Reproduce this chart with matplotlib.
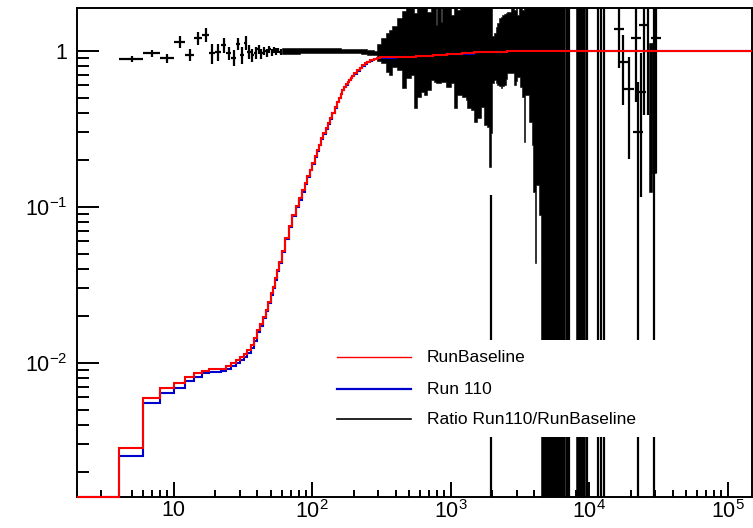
import numpy as np
import matplotlib
matplotlib.use('Agg')
import matplotlib.pyplot as plt
from matplotlib.patches import Rectangle
from matplotlib.lines import Line2D
from matplotlib.ticker import NullFormatter

plt.rcParams['font.family'] = ['Liberation Sans', 'DejaVu Sans']
plt.rcParams['mathtext.fontset'] = 'custom'
plt.rcParams['mathtext.rm'] = 'Liberation Sans'
plt.rcParams['mathtext.it'] = 'Liberation Sans:italic'
plt.rcParams['mathtext.bf'] = 'Liberation Sans:bold'

X_MIN, X_MAX = 2, 150000
Y_MIN, Y_MAX = 1.377e-3, 1.878
TOP = 2.5       # above the frame, clipped
BOTTOM = 1e-4   # below the frame, clipped

# cumulative histograms: bin edges and contents
hist_edges = [2, 4, 6, 8, 10, 12, 14, 16, 18, 20, 22, 24, 26, 28, 30, 32, 34, 36, 38, 40,
              42, 44, 46, 48, 50, 52, 54, 56, 58, 60,
              64, 68, 72, 76, 80, 84, 88, 92, 96, 100, 104, 108, 112, 116, 120,
              125, 130, 135, 140, 145, 150, 155, 160, 165, 170, 175, 180, 185, 190, 195, 200,
              210, 220, 230, 240, 250, 260, 270, 280, 295, 310,
              400, 560, 750, 946, 1200, 1474, 2000, 2570, 150000]
baseline_vals = [Y_MIN, 2.83e-3, 5.97e-3, 6.91e-3, 7.44e-3, 8.05e-3, 8.55e-3, 8.85e-3, 9.08e-3,
                 9.10e-3, 9.15e-3, 9.53e-3, 1.00e-2, 1.04e-2, 1.08e-2, 1.13e-2, 1.20e-2,
                 1.29e-2, 1.43e-2, 1.62e-2, 1.77e-2, 1.97e-2, 2.18e-2, 2.46e-2, 2.79e-2,
                 3.07e-2, 3.48e-2, 3.93e-2, 4.44e-2,
                 0.052, 0.063, 0.075, 0.088, 0.101, 0.113, 0.127, 0.142, 0.157, 0.173,
                 0.19, 0.21, 0.23, 0.25, 0.275,
                 0.297, 0.32, 0.343, 0.37, 0.40, 0.435, 0.47, 0.50, 0.53, 0.56, 0.585, 0.61,
                 0.632, 0.653, 0.673, 0.692,
                 0.715, 0.75, 0.78, 0.805, 0.828, 0.848, 0.866, 0.878, 0.89, 0.90,
                 0.907, 0.917, 0.927, 0.936, 0.953, 0.961, 0.977, 0.985, 0.998]
run110_vals = [Y_MIN, 2.52e-3, 5.50e-3, 6.42e-3, 6.91e-3, 7.67e-3, 8.13e-3, 8.55e-3, 8.70e-3,
               8.70e-3, 8.80e-3, 9.10e-3, 9.53e-3, 1.00e-2, 1.04e-2, 1.09e-2, 1.16e-2,
               1.25e-2, 1.37e-2, 1.58e-2, 1.72e-2, 1.92e-2, 2.13e-2, 2.41e-2, 2.73e-2,
               3.01e-2, 3.41e-2, 3.86e-2, 4.36e-2,
               0.051, 0.062, 0.074, 0.087, 0.099, 0.111, 0.125, 0.140, 0.155, 0.171,
               0.187, 0.207, 0.227, 0.247, 0.271,
               0.293, 0.316, 0.339, 0.366, 0.396, 0.431, 0.466, 0.496, 0.526, 0.556, 0.581,
               0.606, 0.628, 0.649, 0.669, 0.688,
               0.711, 0.746, 0.776, 0.801, 0.824, 0.844, 0.862, 0.874, 0.886, 0.896,
               0.904, 0.914, 0.925, 0.934, 0.951, 0.959, 0.976, 0.984, 0.997]

# ratio, low x bins (width 2)
ratio_x = [5, 7, 9, 11, 13, 15, 17, 19, 21, 23, 25, 27, 29, 31, 33, 35, 37, 39, 41, 43,
           45, 47, 49, 51, 53, 55, 57, 59]
ratio_y = [0.885, 0.962, 0.894, 1.142, 0.938, 1.20, 1.26, 0.962, 0.985, 1.087, 0.962, 0.902,
           1.104, 0.938, 1.125, 0.985, 0.938, 0.97, 1.02, 0.96, 1.0, 0.97, 1.02, 0.98,
           1.01, 0.99, 1.0, 0.98]
ratio_err = [0.04, 0.045, 0.06, 0.095, 0.08, 0.11, 0.13, 0.14, 0.12, 0.12, 0.09, 0.11,
             0.10, 0.12, 0.11, 0.10, 0.09, 0.08, 0.07, 0.07, 0.06, 0.06, 0.05, 0.05,
             0.05, 0.045, 0.04, 0.04]

# dense part of the ratio: outline of the overlapping error bars
band_edges = [60, 82, 115, 160, 224, 250, 279, 295, 312, 339, 358, 379, 412, 448, 473, 514,
              543, 574, 607, 641, 679, 717, 757, 779, 801, 850, 871, 920, 1000, 1056, 1118,
              1160, 1215, 1283, 1320, 1395, 1474, 1560, 1648, 1741, 1842, 1892, 1946, 2000,
              2056, 2115, 2176, 2240, 2298, 2362, 2428, 2500, 2570, 2640, 2715, 2868, 2950,
              3035, 3100, 3170, 3299, 3387, 3440, 3681, 3896, 3961, 4048, 4140, 4348, 4473,
              6668]
band_lo = [0.955, 0.96, 0.965, 0.965, 0.95, 0.935, 0.938, 0.86, 0.83, 0.734, 0.699, 0.79,
           0.752, 0.574, 0.665, 0.699, 0.427, 0.507, 0.546, 0.52, 0.56, 0.649, 0.633, 0.618,
           0.618, 0.633, 0.633, 0.588, 0.618, 0.427, 0.52, 0.52, 0.507, 0.483, 0.427, 0.417,
           0.351, 0.369, 0.438, 0.334, 0.326, 0.18, 0.295, 0.62, 0.649, 0.62, 0.603, 0.59,
           0.574, 0.59, 0.603, 0.66, 0.716, 0.716, 0.716, 0.603, 0.64, 0.681, 0.681, 0.588,
           0.507, 0.261, 0.52, 0.351, 0.249, 0.125, 0.0436, 0.138, 0.0885, BOTTOM]
band_hi = [1.045, 1.04, 1.035, 1.03, 1.025, 1.01, 0.99, 1.10, 1.20, 1.30, 1.36, 1.45, 1.61,
           1.80, TOP, TOP, 1.737, TOP, TOP, TOP, 1.778, TOP, TOP, 1.461, TOP, 1.534, TOP,
           TOP, 1.694, TOP, 1.823, TOP, TOP, TOP, TOP, TOP, TOP, TOP, TOP, TOP, TOP, TOP,
           TOP, 1.25, 1.293, 1.425, 1.5, 1.613, 1.65, 1.694, 1.72, 1.737, 1.76, 1.778, TOP,
           1.823, TOP, 1.694, TOP, TOP, 1.823, TOP, TOP, TOP, TOP, TOP, TOP, TOP, TOP, TOP]

# solid blocks at high x
block_x0 = [8008, 27130, 28500]
block_x1 = [9302, 28500, 30330]
block_lo = [BOTTOM, 0.125, 0.164]
block_hi = [TOP, 1.121, 1.121]

# single long error bars at high x
spike_x = [1946, 6950, 7163, 9570, 11490, 12140, 12830, 16460, 17420, 19450, 21750, 22370,
           23630, 24720, 26800, 29200, 30330]
spike_lo = [BOTTOM, BOTTOM, BOTTOM, BOTTOM, BOTTOM, BOTTOM, BOTTOM, 0.775, 0.449, 0.202,
            0.471, BOTTOM, 0.116, 0.387, 0.387, BOTTOM, 0.164]
spike_hi = [0.119, TOP, TOP, TOP, TOP, TOP, TOP, TOP, 1.261, 0.915, TOP, 0.633, 0.967, TOP,
            TOP, TOP, TOP]
mark_x = [16460, 17420, 19450, 21750, 22370, 23630, 24720, 30330]
mark_y = [1.377, 0.85, 0.566, 1.201, 0.303, 0.544, 1.461, 1.211]

legend_labels = ['RunBaseline', 'Run 110', 'Ratio Run110/RunBaseline']
legend_colors = ['#ff0000', '#0000cc', 'black']

W, H = 753, 528
fig = plt.figure(figsize=(W / 100, H / 100), dpi=100)
ax = fig.add_axes([77 / W, 1 - 497 / H, 675 / W, 489 / H])

# ratio
ax.errorbar(ratio_x, ratio_y, xerr=1, yerr=ratio_err, fmt='none', ecolor='black',
            elinewidth=1.6, capsize=0, zorder=2)
ax.fill_between(band_edges, band_lo + [band_lo[-1]], band_hi + [band_hi[-1]], step='post',
                color='black', lw=0.4, zorder=2)
for x0, x1, lo, hi in zip(block_x0, block_x1, block_lo, block_hi):
    ax.fill_between([x0, x1], [lo, lo], [hi, hi], color='black', lw=0.4, zorder=2)
ax.vlines(spike_x, spike_lo, spike_hi, colors='black', lw=1.6, zorder=2)
ax.plot(mark_x, mark_y, '_', ms=7, mew=1.6, color='black', zorder=2)

# cumulative curves
ax.stairs(run110_vals, hist_edges, baseline=None, color='#0000cc', lw=1.5, zorder=3,
          clip_on=False)
ax.stairs(baseline_vals, hist_edges, baseline=None, color='#ff0000', lw=1.5, zorder=4,
          clip_on=False)

ax.set_xscale('log')
ax.set_yscale('log')
ax.set_xlim(X_MIN, X_MAX)
ax.set_ylim(Y_MIN, Y_MAX)

ax.set_xticks([10, 100, 1000, 1e4, 1e5],
              ['10', '$10^{2}$', '$10^{3}$', '$10^{4}$', '$10^{5}$'])
ax.set_yticks([0.01, 0.1, 1], ['$10^{-2}$', '$10^{-1}$', '1'])
ax.xaxis.set_minor_formatter(NullFormatter())
ax.yaxis.set_minor_formatter(NullFormatter())
ax.tick_params(which='both', direction='in', top=False, right=False, width=1.4,
               labelsize=15.5, colors='black')
ax.tick_params(axis='x', which='major', length=10.5, pad=2)
ax.tick_params(axis='x', which='minor', length=5)
ax.tick_params(axis='y', which='major', length=16, pad=7)
ax.tick_params(axis='y', which='minor', length=8.5)
for s in ax.spines.values():
    s.set_linewidth(1.4)

# legend (white box, no border)
fig.add_artist(Rectangle((328 / W, 1 - 437 / H), 362 / W, 97 / H, transform=fig.transFigure,
                         facecolor='white', edgecolor='none', zorder=5))
rows = [357.3, 389, 419.3]
widths = [1.0, 1.6, 1.2]
for label, col, yy, lw in zip(legend_labels, legend_colors, rows, widths):
    fig.add_artist(Line2D([337 / W, 411 / W], [1 - yy / H, 1 - yy / H], color=col, lw=lw,
                          transform=fig.transFigure, zorder=6))
    fig.text(426.7 / W, 1 - yy / H, label, fontsize=12.5, va='center', ha='left', zorder=7)

fig.savefig('out.png', dpi=100)
